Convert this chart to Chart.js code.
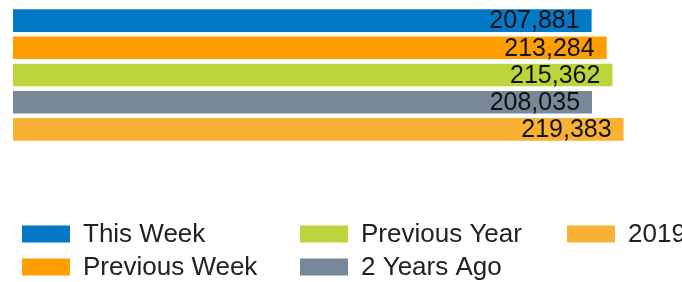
<!DOCTYPE html>
<html>
<head>
<meta charset="utf-8">
<script src="https://cdn.jsdelivr.net/npm/chart.js@4/dist/chart.umd.min.js"></script>
<style>
  html, body { margin: 0; padding: 0; background: #fff; overflow: hidden; }
  #wrap { position: relative; width: 682px; height: 282px; }
</style>
</head>
<body>
<div id="wrap"><canvas id="bar-chart-canvas" width="682" height="282"></canvas></div>
<script>
/* eslint-disable no-undef */
// datos
const categories = [''];
const seriesNames = ['This Week', 'Previous Week', 'Previous Year', '2 Years Ago', '2019'];
const seriesValues = [207881, 213284, 215362, 208035, 219383];
const seriesColors = ['#0278c6', '#ff9e00', '#bdd43a', '#778899', '#f9b133'];
const xMax = 240000;

const font = '"Liberation Sans", Arial, sans-serif';

// etiquetas de valor dentro de cada barra
const valueLabels = {
  id: 'valueLabels',
  afterDatasetsDraw(chart) {
    const ctx = chart.ctx;
    ctx.save();
    ctx.font = '25px ' + font;
    ctx.fillStyle = '#111';
    ctx.textAlign = 'right';
    ctx.textBaseline = 'middle';
    chart.data.datasets.forEach((ds, i) => {
      chart.getDatasetMeta(i).data.forEach((bar, j) => {
        ctx.fillText(ds.data[j].toLocaleString('en-US'), bar.x - 12, bar.y + 1);
      });
    });
    ctx.restore();
  },
};

// leyenda en columnas (orden por columna)
const columnLegend = {
  id: 'columnLegend',
  afterDraw(chart) {
    const ctx = chart.ctx;
    const colX = [22, 300, 567];
    const rowY = [234, 267];
    ctx.save();
    ctx.font = '26px ' + font;
    ctx.textBaseline = 'middle';
    ctx.textAlign = 'left';
    chart.data.datasets.forEach((ds, i) => {
      const x = colX[Math.floor(i / 2)];
      const y = rowY[i % 2];
      ctx.fillStyle = ds.backgroundColor;
      ctx.fillRect(x, y - 8.5, 48, 17);
      ctx.fillStyle = '#222';
      ctx.fillText(ds.label, x + 61, y + 1);
    });
    ctx.restore();
  },
};

const barChartCanvas = document.getElementById('bar-chart-canvas').getContext('2d');
const barChart = new Chart(barChartCanvas, {
  type: 'bar',
  data: {
    labels: categories,
    datasets: seriesNames.map((name, i) => ({
      label: name,
      data: [seriesValues[i]],
      backgroundColor: seriesColors[i],
      borderWidth: 0,
      categoryPercentage: 1,
      barPercentage: 0.83,
    })),
  },
  options: {
    indexAxis: 'y',
    responsive: false,
    animation: false,
    layout: { padding: { left: 13, right: 1, top: 7, bottom: 139 } },
    scales: {
      x: { display: false, min: 0, max: xMax },
      y: { display: false },
    },
    plugins: {
      legend: { display: false },
      tooltip: { enabled: false },
    },
  },
  plugins: [valueLabels, columnLegend],
});
barChart.update();
</script>
</body>
</html>
